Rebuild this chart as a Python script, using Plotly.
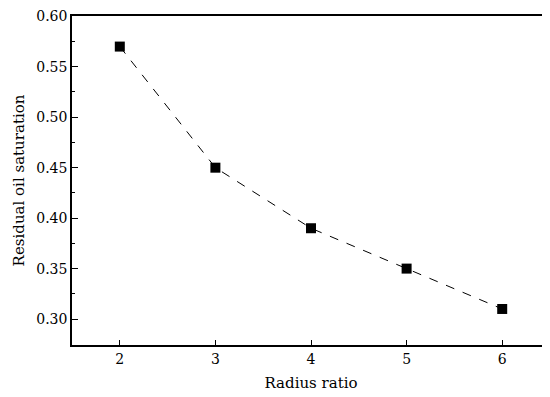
import plotly.graph_objects as go

radius_ratio = [2, 3, 4, 5, 6]
residual_oil_saturation = [0.57, 0.45, 0.39, 0.35, 0.31]
x_tick_vals = [2, 3, 4, 5, 6]
y_tick_vals = [0.30, 0.35, 0.40, 0.45, 0.50, 0.55, 0.60]
y_tick_text = ["0.30", "0.35", "0.40", "0.45", "0.50", "0.55", "0.60"]

font_family = "DejaVu Serif"

fig = go.Figure()
fig.add_trace(go.Scatter(
    x=radius_ratio,
    y=residual_oil_saturation,
    mode="lines+markers",
    line=dict(color="black", width=1, dash="dash"),
    marker=dict(symbol="square", size=10, color="black"),
    showlegend=False,
))

fig.update_layout(
    width=550, height=397,
    margin=dict(l=64, r=8, t=8, b=60),
    paper_bgcolor="white",
    plot_bgcolor="white",
    font=dict(family=font_family, size=14, color="black"),
)
fig.update_xaxes(
    range=[1.5, 6.5],
    tickvals=x_tick_vals,
    ticks="inside", ticklen=5, tickwidth=1.2, tickcolor="black",
    showline=True, linecolor="black", linewidth=1.5, mirror=True,
    showgrid=False, zeroline=False, automargin=False,
    ticklabeloverflow="allow",
    tickfont=dict(family=font_family, size=14),
    title=dict(text="Radius ratio", font=dict(family=font_family, size=15), standoff=12),
)
fig.update_yaxes(
    range=[0.2743, 0.6003],
    tickvals=y_tick_vals, ticktext=y_tick_text,
    ticks="inside", ticklen=6, tickwidth=1.2, tickcolor="black",
    minor=dict(dtick=0.025, tick0=0.3, ticks="inside", ticklen=3, tickcolor="black", tickwidth=1),
    showline=True, linecolor="black", linewidth=1.5, mirror=True,
    showgrid=False, zeroline=False, automargin=False,
    ticklabeloverflow="allow",
    tickfont=dict(family=font_family, size=14),
    title=dict(text="Residual oil saturation", font=dict(family=font_family, size=15), standoff=8),
)

fig.write_html("out.html")
